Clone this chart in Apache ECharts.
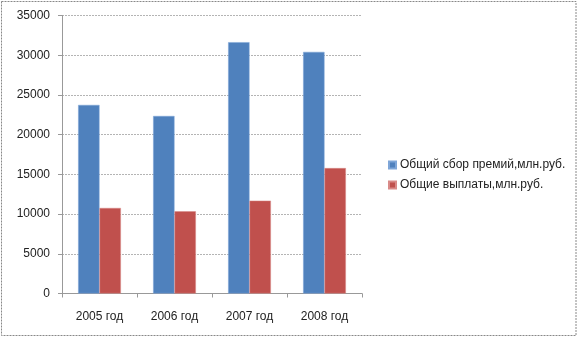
<!DOCTYPE html>
<html>
<head>
<meta charset="utf-8">
<script src="https://cdn.jsdelivr.net/npm/echarts@6/dist/echarts.min.js"></script>
<style>
html,body{margin:0;padding:0;background:#fff;}
#chart{width:578px;height:337px;}
</style>
</head>
<body>
<div id="chart"></div>
<script>
const categories = ['2005 год', '2006 год', '2007 год', '2008 год'];
const seriesNames = ['Общий сбор премий,млн.руб.', 'Общие выплаты,млн.руб.'];
const premiums = [23740, 22350, 31640, 30420];
const payouts = [10770, 10350, 11690, 15790];
const yTicks = [0, 5000, 10000, 15000, 20000, 25000, 30000, 35000];

const font = 'Liberation Sans, Arial, sans-serif';
const chart = echarts.init(document.getElementById('chart'), null, {renderer: 'canvas'});
chart.setOption({
  animation: false,
  backgroundColor: '#fff',
  textStyle: {fontFamily: font},
  grid: {left: 62, right: 216, top: 15.5, bottom: 43.5, containLabel: false},
  legend: {
    orient: 'vertical',
    left: 383,
    top: 154,
    itemWidth: 7,
    itemHeight: 7,
    itemGap: 8,
    icon: 'rect',
    textStyle: {fontFamily: font, fontSize: 12, color: '#222', padding: [0, 0, 0, -1]},
    data: seriesNames
  },
  xAxis: {
    type: 'category',
    data: categories,
    axisLine: {lineStyle: {color: '#999', width: 1}},
    axisTick: {show: true, inside: false, length: 4, alignWithLabel: false, lineStyle: {color: '#999'}},
    axisLabel: {fontFamily: font, fontSize: 12, color: '#222', margin: 17}
  },
  yAxis: {
    type: 'value',
    min: yTicks[0],
    max: yTicks[yTicks.length - 1],
    interval: yTicks[1] - yTicks[0],
    axisLine: {show: true, lineStyle: {color: '#999', width: 1}},
    axisTick: {show: true, length: 4, lineStyle: {color: '#999'}},
    axisLabel: {fontFamily: font, fontSize: 12, color: '#222', margin: 12, formatter: v => String(v)},
    splitLine: {show: true, lineStyle: {color: '#b4b4b4', width: 1, type: [2, 1]}}
  },
  series: [
    {
      name: seriesNames[0],
      type: 'bar',
      data: premiums,
      barGap: '0%',
      barCategoryGap: '43%',
      itemStyle: {color: '#4F81BD', borderColor: '#7ea6d8', borderWidth: 0.5}
    },
    {
      name: seriesNames[1],
      type: 'bar',
      data: payouts,
      itemStyle: {color: '#C0504D', borderColor: '#d98a88', borderWidth: 0.5}
    }
  ],
  graphic: [{
    type: 'rect',
    shape: {x: 1.5, y: 1.5, width: 574.5, height: 334},
    style: {fill: 'none', stroke: '#888', lineWidth: 1, lineDash: [2, 1]},
    silent: true
  }]
});
</script>
</body>
</html>
